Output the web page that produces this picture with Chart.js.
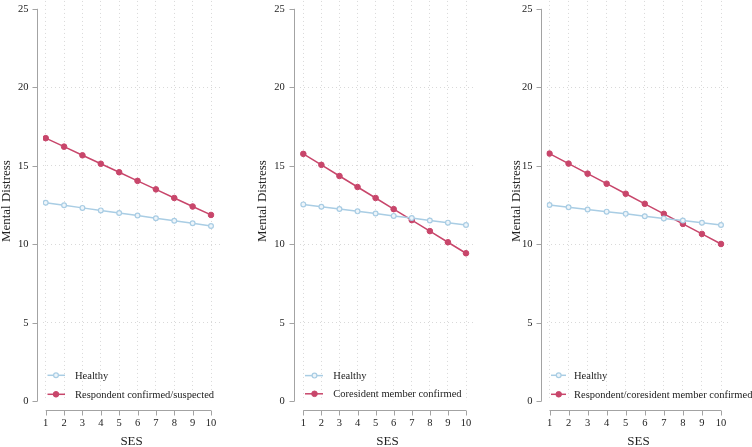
<!DOCTYPE html>
<html>
<head>
<meta charset="utf-8">
<script src="https://cdn.jsdelivr.net/npm/chart.js@4.4.1/dist/chart.umd.min.js"></script>
<style>
  html, body { margin: 0; padding: 0; background: #ffffff; }
  #wrap { position: relative; width: 752px; height: 447px; overflow: hidden; }
  canvas { position: absolute; left: 0; top: 0; }
</style>
</head>
<body>
<div id="wrap">
  <canvas id="c1" width="752" height="447"></canvas>
  <canvas id="c2" width="752" height="447"></canvas>
  <canvas id="c3" width="752" height="447"></canvas>
</div>
<script>
// ---- data ----
const ses = [1, 2, 3, 4, 5, 6, 7, 8, 9, 10];
const xTicks = [1, 2, 3, 4, 5, 6, 7, 8, 9, 10];
const yTicks = [0, 5, 10, 15, 20, 25];

const healthy1 = [12.65, 12.49, 12.32, 12.16, 11.99, 11.83, 11.66, 11.50, 11.34, 11.17];
const respondent1 = [16.76, 16.22, 15.67, 15.13, 14.59, 14.04, 13.50, 12.95, 12.41, 11.87];

const healthy2 = [12.54, 12.39, 12.25, 12.10, 11.96, 11.81, 11.67, 11.52, 11.38, 11.23];
const coresident2 = [15.76, 15.06, 14.35, 13.65, 12.95, 12.24, 11.54, 10.84, 10.13, 9.43];

const healthy3 = [12.50, 12.36, 12.22, 12.08, 11.94, 11.79, 11.65, 11.51, 11.37, 11.23];
const either3 = [15.78, 15.14, 14.50, 13.86, 13.22, 12.58, 11.94, 11.30, 10.66, 10.02];

const labelHealthy = 'Healthy';
const labels2nd = ['Respondent confirmed/suspected', 'Coresident member confirmed', 'Respondent/coresident member confirmed'];
const xTitle = 'SES';
const yTitle = 'Mental Distress';

// ---- styles ----
const SERIF = "'Liberation Serif', 'Times New Roman', serif";
const BLUE = '#a9cde4';
const RED = '#c8466b';
const AXIS = '#a3a3a3';
const GRID = '#d9d9d9';
const TEXT = '#222222';

const H = 447;
const Y_BOTTOM = 401.3;
const X_AXIS_Y = 409.5;

// per-panel geometry (absolute canvas px)
const geoms = [
  { titleCx: 6.3,  labelRight: 28.6,  axisX: 36.7,  plotLeft: 43.0,  x1: 45.7,  x10: 211.0,
    leg: { l0: 47.5, l1: 65, mx: 56, y: [375.3, 394.3], tx: 75 } },
  { titleCx: 263.0, labelRight: 284.8, axisX: 293.7, plotLeft: 300.0, x1: 303.3, x10: 466.0,
    leg: { l0: 305, l1: 323, mx: 314.5, y: [375.6, 393.8], tx: 333.3 } },
  { titleCx: 516.6, labelRight: 532.5, axisX: 540.5, plotLeft: 546.6, x1: 549.5, x10: 721.0,
    leg: { l0: 551, l1: 566, mx: 558.7, y: [375.3, 394.3], tx: 574 } }
];

function pts(arr) { return ses.map((s, i) => ({ x: s, y: arr[i] })); }

const axesPlugin = {
  id: 'stataAxes',
  afterDraw(chart) {
    const g = chart.options.plugins.stataAxes.geom;
    const xs = chart.scales.x, ys = chart.scales.y;
    const ctx = chart.ctx;
    ctx.save();
    ctx.strokeStyle = AXIS;
    ctx.lineWidth = 1;
    ctx.beginPath();
    const ax = Math.round(g.axisX) + 0.5;
    ctx.moveTo(ax, ys.getPixelForValue(25));
    ctx.lineTo(ax, ys.getPixelForValue(0));
    yTicks.forEach(v => {
      const py = Math.round(ys.getPixelForValue(v)) + 0.5;
      ctx.moveTo(ax - 5, py);
      ctx.lineTo(ax, py);
    });
    const ay = Math.round(X_AXIS_Y) + 0.5;
    ctx.moveTo(xs.getPixelForValue(1), ay);
    ctx.lineTo(xs.getPixelForValue(10), ay);
    xTicks.forEach(v => {
      const px = Math.round(xs.getPixelForValue(v)) + 0.5;
      ctx.moveTo(px, ay);
      ctx.lineTo(px, ay + 5);
    });
    ctx.stroke();
    ctx.restore();
  }
};

const legendPlugin = {
  id: 'stataLegend',
  afterDraw(chart) {
    const lg = chart.options.plugins.stataLegend.leg;
    const ctx = chart.ctx;
    ctx.save();
    chart.data.datasets.forEach((ds, i) => {
      const y = lg.y[i];
      ctx.strokeStyle = ds.borderColor;
      ctx.lineWidth = ds.borderWidth;
      ctx.beginPath();
      ctx.moveTo(lg.l0, y);
      ctx.lineTo(lg.l1, y);
      ctx.stroke();
      ctx.beginPath();
      ctx.arc(lg.mx, y, ds.pointRadius, 0, Math.PI * 2);
      ctx.fillStyle = ds.pointBackgroundColor;
      ctx.fill();
      ctx.lineWidth = ds.pointBorderWidth;
      ctx.strokeStyle = ds.pointBorderColor;
      ctx.stroke();
      ctx.fillStyle = TEXT;
      ctx.font = "10.5px " + SERIF;
      ctx.textAlign = 'left';
      ctx.textBaseline = 'middle';
      ctx.fillText(ds.label, lg.tx, y + 0.5);
    });
    ctx.restore();
  }
};

function makePanel(id, g, healthy, other, otherLabel) {
  const spacing = (g.x10 - g.x1) / 9;
  const xMin = 1 - (g.x1 - g.plotLeft) / spacing;
  const xMax = 10.5;
  const plotRight = g.x10 + 0.5 * spacing;
  const padLeft = g.titleCx - 6.5;
  const yMax = 25.5;
  const pxPerUnit = 15.7;
  const top = Y_BOTTOM - yMax * pxPerUnit;

  new Chart(document.getElementById(id), {
    type: 'line',
    data: {
      datasets: [
        { label: labelHealthy, data: pts(healthy), borderColor: BLUE, borderWidth: 1.5,
          pointRadius: 2.4, pointBorderWidth: 1.2, pointBorderColor: BLUE, pointBackgroundColor: '#eef5fa',
          tension: 0 },
        { label: otherLabel, data: pts(other), borderColor: RED, borderWidth: 1.5,
          pointRadius: 2.8, pointBorderWidth: 1, pointBorderColor: RED, pointBackgroundColor: RED,
          tension: 0 }
      ]
    },
    options: {
      responsive: false,
      animation: false,
      devicePixelRatio: 1,
      layout: { autoPadding: false, padding: { left: padLeft, right: 752 - plotRight, top: top, bottom: 0 } },
      plugins: {
        legend: { display: false },
        tooltip: { enabled: false },
        stataAxes: { geom: g },
        stataLegend: { leg: g.leg }
      },
      scales: {
        x: {
          type: 'linear', min: xMin, max: xMax,
          afterBuildTicks: s => { s.ticks = xTicks.map(v => ({ value: v })); },
          afterFit: s => { s.height = H - Y_BOTTOM; s.paddingLeft = 0; s.paddingRight = 0; },
          grid: { color: GRID, lineWidth: 1, drawTicks: false },
          border: { display: false, dash: [1, 3] },
          ticks: { color: TEXT, font: { family: SERIF, size: 10.5 }, padding: 16, maxRotation: 0, autoSkip: false },
          title: { display: true, text: xTitle, color: TEXT, font: { family: SERIF, size: 13, lineHeight: 1 }, padding: { top: 0, bottom: -1.5 } }
        },
        y: {
          min: 0, max: yMax,
          afterBuildTicks: s => { s.ticks = yTicks.map(v => ({ value: v })); },
          afterFit: s => { s.width = g.plotLeft - padLeft; s.paddingTop = 0; s.paddingBottom = 0; },
          grid: {
            color: c => (c.tick && (c.tick.value === 0 || c.tick.value === 25)) ? 'rgba(0,0,0,0)' : GRID,
            lineWidth: 1, drawTicks: true, tickLength: g.plotLeft - g.labelRight - 4, tickColor: 'rgba(0,0,0,0)'
          },
          border: { display: false, dash: [1, 3] },
          ticks: { color: TEXT, font: { family: SERIF, size: 10.5, lineHeight: 0.2 }, padding: 4 },
          title: { display: true, text: yTitle, color: TEXT, font: { family: SERIF, size: 13, lineHeight: 1 }, padding: 0 }
        }
      }
    },
    plugins: [axesPlugin, legendPlugin]
  });
}

makePanel('c1', geoms[0], healthy1, respondent1, labels2nd[0]);
makePanel('c2', geoms[1], healthy2, coresident2, labels2nd[1]);
makePanel('c3', geoms[2], healthy3, either3, labels2nd[2]);
</script>
</body>
</html>
